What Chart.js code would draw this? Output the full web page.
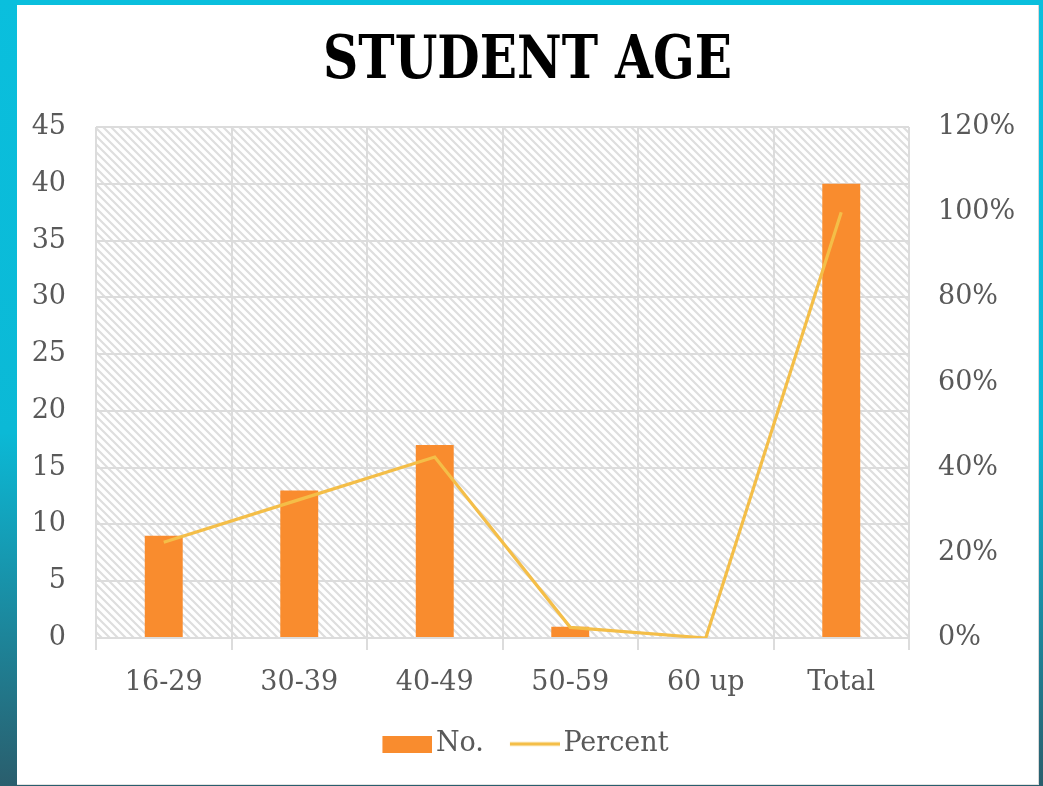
<!DOCTYPE html>
<html>
<head>
<meta charset="utf-8">
<script src="https://cdn.jsdelivr.net/npm/chart.js@4/dist/chart.umd.min.js"></script>
<style>
  html, body { margin: 0; padding: 0; width: 1043px; height: 786px; overflow: hidden; }
  body { background: linear-gradient(to bottom, #0abfdd 0%, #0bb9d6 55%, #2a5e6d 100%); position: relative; }
  #card { position: absolute; left: 17px; top: 5px; width: 1021px; height: 779px; background: #fff; border-bottom: 1px solid #e2e2e2; border-right: 1px solid #d8d8d8; }
  #c { position: absolute; left: 0; top: 0; }
</style>
</head>
<body>
<div id="card"></div>
<canvas id="c" width="1043" height="786"></canvas>
<script>
const categories = ["16-29", "30-39", "40-49", "50-59", "60 up", "Total"];
const countValues = [9, 13, 17, 1, 0, 40];
const percentValues = [0.225, 0.325, 0.425, 0.025, 0, 1.0];
const leftTicks = [0, 5, 10, 15, 20, 25, 30, 35, 40, 45];
const rightTicks = [0, 0.2, 0.4, 0.6, 0.8, 1.0, 1.2];
const titleText = 'STUDENT AGE';

const FONT = "'DejaVu Serif', 'Liberation Serif', serif";
const TXT = '#595959';
const BAR_COLOR = '#F98C2E';
const LINE_COLOR = '#F4BE48';
const FS = 27;

function makePattern(ctx) {
  const p = document.createElement('canvas');
  p.width = 8; p.height = 8;
  const g = p.getContext('2d');
  g.fillStyle = '#ffffff';
  g.fillRect(0, 0, 8, 8);
  g.strokeStyle = '#dedede';
  g.lineWidth = 2.2;
  g.beginPath();
  for (let k = -8; k <= 16; k += 8) {
    g.moveTo(k - 2, -2);
    g.lineTo(k + 10, 10);
  }
  g.stroke();
  return ctx.createPattern(p, 'repeat');
}

// legend markers: 50px wide content, right-aligned inside a 60px image
function makeMarker(kind) {
  const c = document.createElement('canvas');
  c.width = 60; c.height = 17;
  const g = c.getContext('2d');
  if (kind === 'bar') {
    g.fillStyle = BAR_COLOR;
    g.fillRect(10, 0, 50, 17);
  } else {
    g.strokeStyle = LINE_COLOR;
    g.lineWidth = 3.5;
    g.beginPath();
    g.moveTo(10, 8.5);
    g.lineTo(60, 8.5);
    g.stroke();
  }
  return c;
}
const markers = { 'No.': makeMarker('bar'), 'Percent': makeMarker('line') };

const hatchPlugin = {
  id: 'hatch',
  beforeDraw(chart) {
    const {ctx, chartArea: a} = chart;
    ctx.save();
    ctx.fillStyle = makePattern(ctx);
    ctx.fillRect(a.left, a.top, a.right - a.left, a.bottom - a.top);
    ctx.restore();
  }
};

const titlePlugin = {
  id: 'slabTitle',
  afterDraw(chart) {
    const ctx = chart.ctx;
    ctx.save();
    ctx.font = "bold 59px 'DejaVu Serif', serif";
    const m = ctx.measureText(titleText).width;
    ctx.fillStyle = '#000';
    ctx.textAlign = 'center';
    ctx.textBaseline = 'alphabetic';
    ctx.translate(527.5, 78);
    ctx.scale(409 / m, 1);
    ctx.fillText(titleText, 0, 0);
    ctx.restore();
  }
};

new Chart(document.getElementById('c'), {
  data: {
    labels: categories,
    datasets: [
      {
        type: 'line',
        label: 'Percent',
        data: percentValues,
        yAxisID: 'y1',
        borderColor: LINE_COLOR,
        backgroundColor: LINE_COLOR,
        borderWidth: 3.2,
        pointRadius: 0,
        pointHoverRadius: 0,
        tension: 0,
        order: 1
      },
      {
        type: 'bar',
        label: 'No.',
        data: countValues,
        yAxisID: 'y',
        backgroundColor: BAR_COLOR,
        borderWidth: 0,
        categoryPercentage: 1.0,
        barPercentage: 0.28,
        order: 2
      }
    ]
  },
  options: {
    responsive: false,
    animation: false,
    devicePixelRatio: 1,
    layout: { padding: { left: 8, right: 0, top: 127, bottom: 18.5 } },
    plugins: {
      title: { display: false },
      legend: {
        position: 'bottom',
        reverse: true,
        labels: {
          usePointStyle: true,
          pointStyleWidth: 40,
          boxHeight: 17,
          color: TXT,
          font: { family: FONT, size: FS },
          padding: 26,
          generateLabels(chart) {
            const items = Chart.defaults.plugins.legend.labels.generateLabels(chart);
            items.forEach(it => { it.pointStyle = markers[it.text]; });
            return items;
          }
        }
      },
      tooltip: { enabled: false }
    },
    scales: {
      x: {
        offset: true,
        grid: { offset: true, color: '#dcdcdc', lineWidth: 2, tickLength: 12, drawTicks: true },
        border: { color: '#dcdcdc', width: 2 },
        ticks: { color: TXT, font: { family: FONT, size: FS }, padding: 17, maxRotation: 0 },
        afterFit(s) { s.height = 66.5; }
      },
      y: {
        position: 'left',
        min: 0, max: 45,
        afterBuildTicks(s) { s.ticks = leftTicks.map(v => ({ value: v })); },
        grid: { color: '#dcdcdc', lineWidth: 2, drawTicks: false },
        border: { display: false },
        ticks: { color: TXT, font: { family: FONT, size: FS }, padding: 30 },
        afterFit(s) { s.width = 88; }
      },
      y1: {
        position: 'right',
        min: 0, max: 1.2,
        afterBuildTicks(s) { s.ticks = rightTicks.map(v => ({ value: v })); },
        grid: { display: false, drawTicks: false },
        border: { display: false },
        ticks: {
          color: TXT, font: { family: FONT, size: FS }, padding: 29,
          callback: v => Math.round(v * 100) + '%'
        },
        afterFit(s) { s.width = 134; }
      }
    }
  },
  plugins: [hatchPlugin, titlePlugin]
});
</script>
</body>
</html>
